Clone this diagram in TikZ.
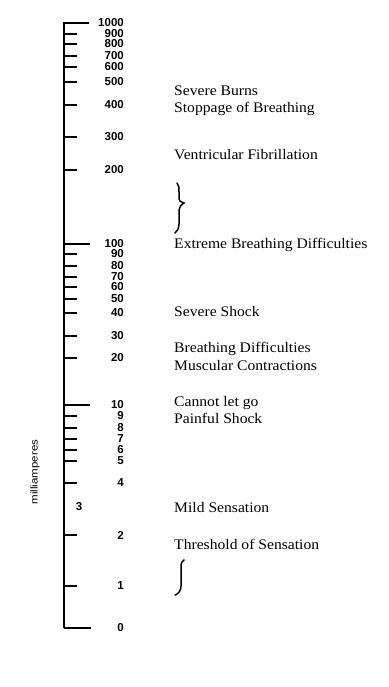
\documentclass[tikz,border=0pt]{standalone}
\usepackage{fontspec}
\setmainfont{Liberation Serif}
\newfontfamily\numfont{Liberation Sans}
\begin{document}
\begin{tikzpicture}[x=1pt,y=-1pt,
  axisline/.style={line width=1.8pt},
  tickline/.style={line width=1.6pt},
  numlabel/.style={anchor=east,inner sep=0pt,font=\numfont\bfseries\fontsize{11.5}{12}\selectfont},
  effect/.style={anchor=base west,inner sep=0pt,xscale=1.07,font=\fontsize{14.6}{16}\selectfont},
  bracestyle/.style={line width=1.5pt,line cap=round}]
\useasboundingbox (0,0) rectangle (388,687);
\coordinate (top) at (64,22);
\coordinate (bot) at (64,628);
\draw[axisline] (top) -- (bot);
\foreach \y/\lab/\len in {23/1000/25,34/900/13,44/800/13,56/700/13,67/600/13,82/500/13,105/400/13,137/300/13,170/200/13,
  244/100/26,254/90/13,266/80/13,277/70/13,287/60/13,299/50/13,313/40/13,336/30/13,358/20/13,
  405/10/26,416/9/13,428/8/13,439/7/13,450/6/13,461/5/13,483/4/13,535/2/13,586/1/13,628/0/27}{
  \coordinate (t\lab) at (63.5,\y);
  \coordinate (e\lab) at (63.5+\len,\y);
  \draw[tickline] (t\lab) -- (e\lab);
  \node[numlabel] (n\lab) at (124,\y) {\lab};
}
\node[numlabel,anchor=center] (n3) at (79,507) {3};
\node[rotate=90,inner sep=0pt,font=\numfont\fontsize{10}{11}\selectfont,xscale=1.15] (unit) at (35,472) {milliamperes};
\node[effect] (burns) at (174,96) {Severe Burns};
\node[effect] (stop) at (174,113) {Stoppage of Breathing};
\node[effect] (vf) at (174,160) {Ventricular Fibrillation};
\node[effect] (ebd) at (174,248) {Extreme Breathing Difficulties};
\node[effect] (shock) at (174,316) {Severe Shock};
\node[effect] (bd) at (174,352) {Breathing Difficulties};
\node[effect] (mc) at (174,370) {Muscular Contractions};
\node[effect] (clg) at (174,406) {Cannot let go};
\node[effect] (ps) at (174,423) {Painful Shock};
\node[effect] (mild) at (174,512) {Mild Sensation};
\node[effect] (thr) at (174,549) {Threshold of Sensation};
\coordinate (b1top) at (177,183);
\coordinate (b1tip) at (184,203);
\coordinate (b1bot) at (175,233);
\draw[bracestyle] (b1top) .. controls (179,185) and (179,188) .. (179,192)
  -- (179,199) .. controls (179,201) and (181,202) .. (b1tip)
  .. controls (181,205) and (179,207) .. (179,210)
  -- (179,224) .. controls (179,229) and (177,231) .. (b1bot);
\coordinate (b2top) at (184,560);
\coordinate (b2bot) at (175,595);
\draw[bracestyle] (b2top) .. controls (182,561) and (181,563) .. (181,567)
  -- (181,586) .. controls (181,591) and (178,594) .. (b2bot);
\end{tikzpicture}
\end{document}
